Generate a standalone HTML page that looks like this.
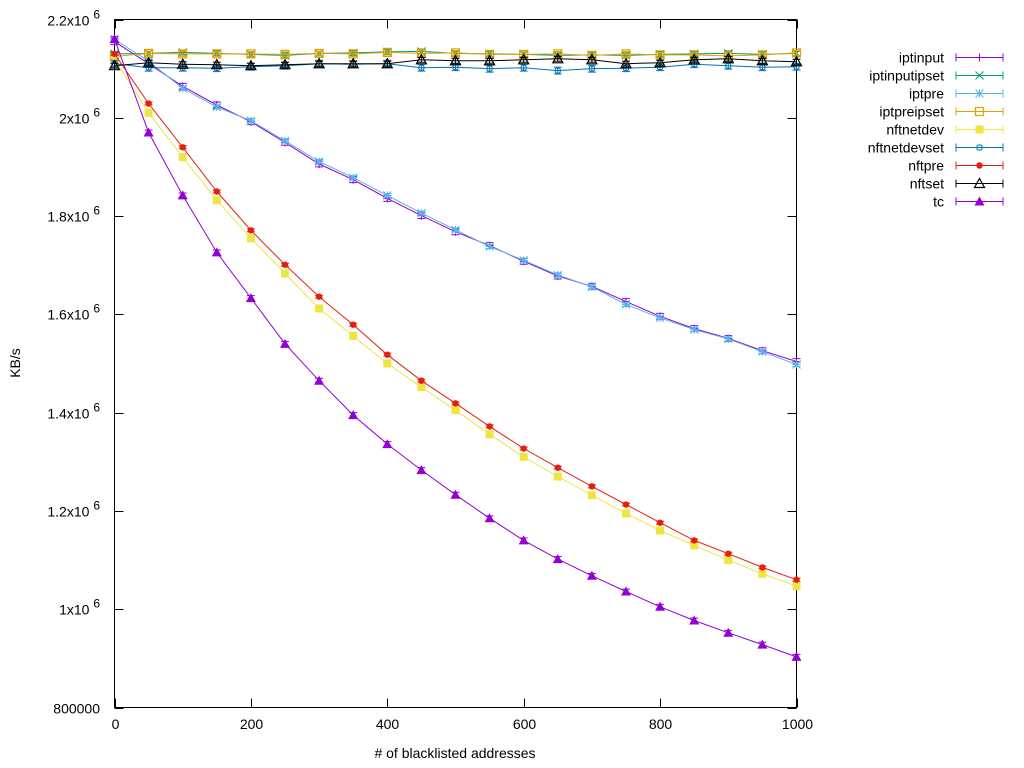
<!DOCTYPE html>
<html><head><meta charset="utf-8"><style>
html,body{margin:0;padding:0;background:#fff;}
svg{display:block;font-family:"Liberation Sans",sans-serif;}
</style></head><body>
<svg id="chart" width="1024" height="768" xmlns="http://www.w3.org/2000/svg">
<rect width="1024" height="768" fill="#fff"/>
<g id="axes"></g><g id="plot"></g><g id="legend"></g>
</svg>
<script>
const xs=[0,50,100,150,200,250,300,350,400,450,500,550,600,650,700,750,800,850,900,950,1000];
const iptinput=[2.155,2.11,2.064,2.026,1.992,1.95,1.906,1.874,1.836,1.801,1.768,1.74,1.708,1.678,1.657,1.626,1.596,1.571,1.551,1.526,1.504];
const iptpre=[2.16,2.115,2.06,2.022,1.994,1.953,1.911,1.878,1.842,1.806,1.772,1.738,1.71,1.68,1.656,1.62,1.593,1.569,1.55,1.524,1.498];
const iptinputipset=[2.13,2.131,2.133,2.131,2.129,2.127,2.131,2.132,2.134,2.135,2.131,2.130,2.129,2.127,2.128,2.127,2.129,2.130,2.131,2.129,2.131];
const iptpreipset=[2.125,2.131,2.130,2.130,2.130,2.129,2.131,2.130,2.133,2.131,2.132,2.129,2.129,2.130,2.127,2.130,2.128,2.128,2.126,2.128,2.132];
const nftnetdevset=[2.11,2.102,2.102,2.101,2.104,2.106,2.110,2.109,2.110,2.102,2.103,2.100,2.102,2.096,2.100,2.101,2.103,2.109,2.106,2.103,2.104];
const nftset=[2.106,2.112,2.109,2.108,2.106,2.108,2.110,2.110,2.110,2.118,2.116,2.116,2.118,2.120,2.118,2.110,2.112,2.118,2.120,2.116,2.114];
const nftpre=[2.13,2.029,1.94,1.85,1.771,1.701,1.636,1.579,1.518,1.465,1.419,1.372,1.327,1.288,1.25,1.213,1.176,1.14,1.113,1.085,1.06];
const nftnetdev=[2.12,2.01,1.92,1.832,1.755,1.683,1.612,1.556,1.50,1.452,1.405,1.356,1.31,1.27,1.232,1.195,1.16,1.13,1.10,1.072,1.047];
const tc=[2.16,1.97,1.842,1.726,1.633,1.54,1.465,1.395,1.336,1.283,1.233,1.185,1.14,1.102,1.068,1.036,1.005,0.977,0.952,0.928,0.903];
const yTicks=[0.8,1.0,1.2,1.4,1.6,1.8,2.0,2.2];
const yTickLabels=["800000","1x10","1.2x10","1.4x10","1.6x10","1.8x10","2x10","2.2x10"];
const xTicks=[0,200,400,600,800,1000];

const L=114.5,R=796.5,T=19.5,B=707.5;
const X=v=>L+(v-0)/(1000-0)*(R-L);
const Y=v=>B-(v-0.8)/(2.2-0.8)*(B-T);
const NS="http://www.w3.org/2000/svg";
function mk(tag,attrs,parent){const e=document.createElementNS(NS,tag);for(const k in attrs)e.setAttribute(k,attrs[k]);parent.appendChild(e);return e;}
const axes=document.getElementById('axes'),plot=document.getElementById('plot'),leg=document.getElementById('legend');

const frame=mk('rect',{x:L,y:T,width:R-L,height:B-T,fill:'none',stroke:'#000','stroke-width':1},axes);


yTicks.forEach((v,i)=>{
  const y=Math.round(Y(v))+0.5;
  mk('line',{x1:L,x2:L+9,y1:y,y2:y,stroke:'#000'},axes);
  mk('line',{x1:R,x2:R-9,y1:y,y2:y,stroke:'#000'},axes);
  const t=mk('text',{x:100,y:y+5,'text-anchor':'end','font-size':14,fill:'#000'},axes);
  
  
  if(i===0){t.textContent=yTickLabels[i];}
  else{t.textContent=yTickLabels[i]+' ';const s=document.createElementNS(NS,'tspan');s.setAttribute('dy','-7');s.setAttribute('font-size','12');s.textContent='6';t.appendChild(s);}
});
xTicks.forEach(v=>{
  const x=Math.round(X(v))+0.5;
  mk('line',{x1:x,x2:x,y1:B,y2:B-9,stroke:'#000'},axes);
  mk('line',{x1:x,x2:x,y1:T,y2:T+9,stroke:'#000'},axes);
  const t=mk('text',{x:x,y:729,'text-anchor':'middle','font-size':14,fill:'#000'},axes);
  
  
  t.textContent=v;
});
const xt=mk('text',{x:455,y:758,'text-anchor':'middle','font-size':14},axes);


xt.textContent='# of blacklisted addresses';
const yt=mk('text',{x:0,y:0,'text-anchor':'middle','font-size':14,transform:'translate(20,363) rotate(-90)'},axes);


yt.textContent='KB/s';

function marker(g,type,x,y,c){
  const s=4;
  if(type==='plus'){mk('path',{d:`M${x-s} ${y}H${x+s}M${x} ${y-s}V${y+s}`,stroke:c,fill:'none'},g);}
  else if(type==='x'){mk('path',{d:`M${x-s} ${y-s}L${x+s} ${y+s}M${x-s} ${y+s}L${x+s} ${y-s}`,stroke:c,fill:'none'},g);}
  else if(type==='star'){mk('path',{d:`M${x-s} ${y}H${x+s}M${x} ${y-s}V${y+s}M${x-s} ${y-s}L${x+s} ${y+s}M${x-s} ${y+s}L${x+s} ${y-s}`,stroke:c,fill:'none'},g);}
  else if(type==='osq'){mk('rect',{x:x-4,y:y-4,width:8,height:8,stroke:c,fill:'none','stroke-width':1.2},g);}
  else if(type==='fsq'){mk('rect',{x:x-4,y:y-4,width:8,height:8,fill:c},g);}
  else if(type==='ocirc'){mk('rect',{x:x-2.5,y:y-2.5,width:5,height:5,rx:1.5,stroke:c,fill:'none'},g);}
  else if(type==='fcirc'){mk('circle',{cx:x,cy:y,r:3.2,fill:c},g);}
  else if(type==='otri'){mk('path',{d:`M${x} ${y-5}L${x+5} ${y+4}L${x-5} ${y+4}Z`,stroke:c,fill:'none','stroke-width':1.2},g);}
  else if(type==='ftri'){mk('path',{d:`M${x} ${y-5}L${x+5} ${y+4}L${x-5} ${y+4}Z`,fill:c},g);}
}
const series=[
 ['iptinput',iptinput,'#9400d3','plus',0.006],
 ['iptinputipset',iptinputipset,'#009e73','x',0.005],
 ['iptpre',iptpre,'#56b4e9','star',0.004],
 ['iptpreipset',iptpreipset,'#e69f00','osq',0.005],
 ['nftnetdev',nftnetdev,'#f0e442','fsq',0.003],
 ['nftnetdevset',nftnetdevset,'#0072b2','ocirc',0.007],
 ['nftpre',nftpre,'#e51e10','fcirc',0.003],
 ['nftset',nftset,'#000000','otri',0.005],
 ['tc',tc,'#9400d3','ftri',0.005]
];
series.forEach(([name,vals,c,m,err],si)=>{
  const g=mk('g',{},plot);
  
  
  const pts=vals.map((v,i)=>X(xs[i]).toFixed(1)+','+Y(v).toFixed(1)).join(' ');
  mk('polyline',{points:pts,fill:'none',stroke:c,'stroke-width':1},g);
  vals.forEach((v,i)=>{
    const x=X(xs[i]),y1=Y(v+err),y2=Y(v-err);
    mk('path',{d:`M${x} ${y1}V${y2}M${x-4} ${y1}H${x+4}M${x-4} ${y2}H${x+4}`,stroke:c,fill:'none'},g);
    marker(g,m,x,Y(v),c);
  });
  const ly=57+si*18+0.5;
  const lg=mk('g',{},leg);
  
  
  const t=mk('text',{x:944,y:ly+5,'text-anchor':'end','font-size':14},lg);
  t.textContent=name;
  mk('path',{d:`M956 ${ly}H1003M956 ${ly-4}V${ly+4}M1003 ${ly-4}V${ly+4}`,stroke:c,fill:'none'},lg);
  marker(lg,m,979.5,ly,c);
});
</script>
</body></html>
